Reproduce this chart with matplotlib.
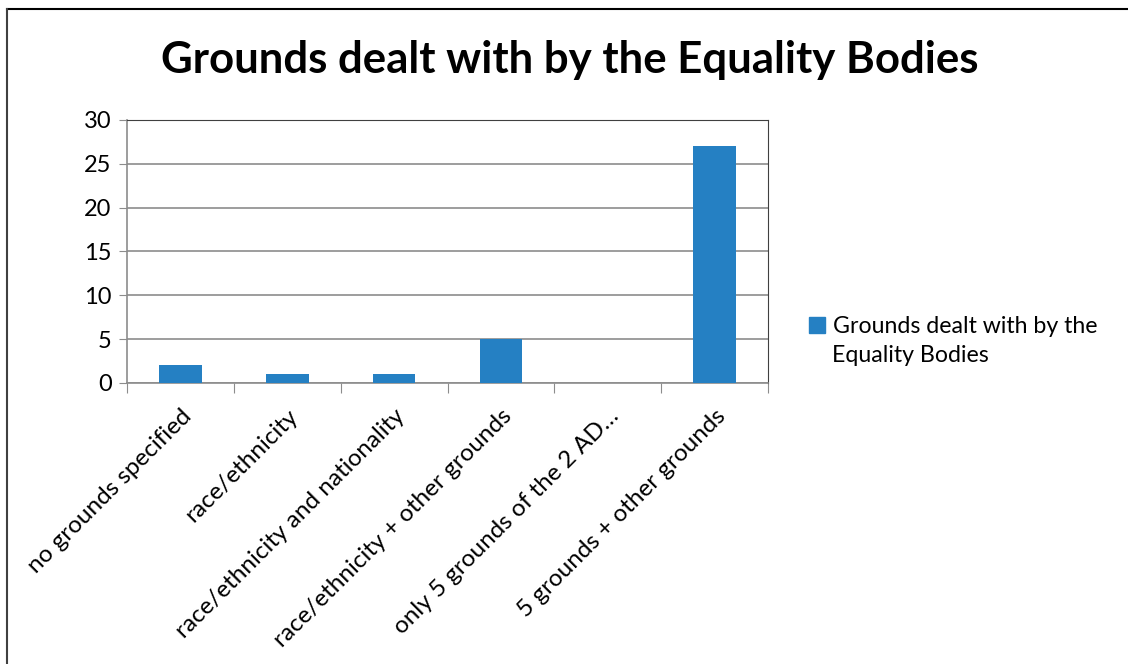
import numpy as np
import matplotlib.pyplot as plt
from matplotlib.lines import Line2D

plt.rcParams['font.family'] = ['Lato', 'DejaVu Sans']

# data
categories = ['no grounds specified', 'race/ethnicity', 'race/ethnicity and nationality',
              'race/ethnicity + other grounds', 'only 5 grounds of the 2 AD…',
              '5 grounds + other grounds']
values = [2, 1, 1, 5, 0, 27]
series_name = ['Grounds dealt with by the', 'Equality Bodies']
yticks = [0, 5, 10, 15, 20, 25, 30]

bar_color = '#2580C3'

fig = plt.figure(figsize=(11.28, 6.64), dpi=100)
ax = fig.add_axes([127 / 1128, 1 - 383 / 664, 641 / 1128, 263 / 664])

x = np.arange(len(categories))
ax.bar(x, values, width=0.4, color=bar_color, zorder=3)

ax.set_xlim(-0.5, len(categories) - 0.5)
ax.set_ylim(0, 30)
ax.set_yticks(yticks)
ax.yaxis.grid(True, color='#8c8c8c', linewidth=1.2, zorder=0)
ax.tick_params(axis='y', length=6, color='#8c8c8c', labelsize=17, pad=5)

# category boundaries as ticks
ax.set_xticks(np.arange(-0.5, len(categories)), minor=False)
ax.set_xticklabels([])
ax.set_xticks(x, minor=True)
ax.set_xticklabels(categories, minor=True, rotation=45, ha='right',
                   rotation_mode='anchor', fontsize=17.5)
ax.tick_params(axis='x', which='major', length=7, color='#8c8c8c')
ax.tick_params(axis='x', which='minor', length=0, pad=16)

ax.spines['left'].set_color('#8c8c8c')
ax.spines['bottom'].set_color('#8c8c8c')
ax.spines['left'].set_linewidth(1.2)
ax.spines['bottom'].set_linewidth(1.2)
ax.spines['top'].set_color('#404040')
ax.spines['right'].set_color('#404040')

fig.text(570 / 1128, 1 - 60 / 664, 'Grounds dealt with by the Equality Bodies',
         ha='center', va='center', fontsize=31.5, fontweight='bold')

# legend: marker sits beside the first line of the wrapped label
leg = fig.legend(handles=[plt.Rectangle((0, 0), 1, 1, color=bar_color)],
                 labels=[series_name[0]], loc='upper left',
                 bbox_to_anchor=(788 / 1128, 1 - 295 / 664), frameon=False,
                 fontsize=16.7, handlelength=0.7, handleheight=0.7,
                 handletextpad=0.35)
fig.text(832 / 1128, 1 - 356 / 664, series_name[1], ha='left', va='center',
         fontsize=16.7)

# outer frame lines (top and left)
fig.add_artist(Line2D([7 / 1128, 1], [1 - 9 / 664, 1 - 9 / 664], color='black', linewidth=1.5))
fig.add_artist(Line2D([7 / 1128, 7 / 1128], [0, 1 - 9 / 664], color='#404040', linewidth=1.5))

fig.savefig('out.png', dpi=100)
